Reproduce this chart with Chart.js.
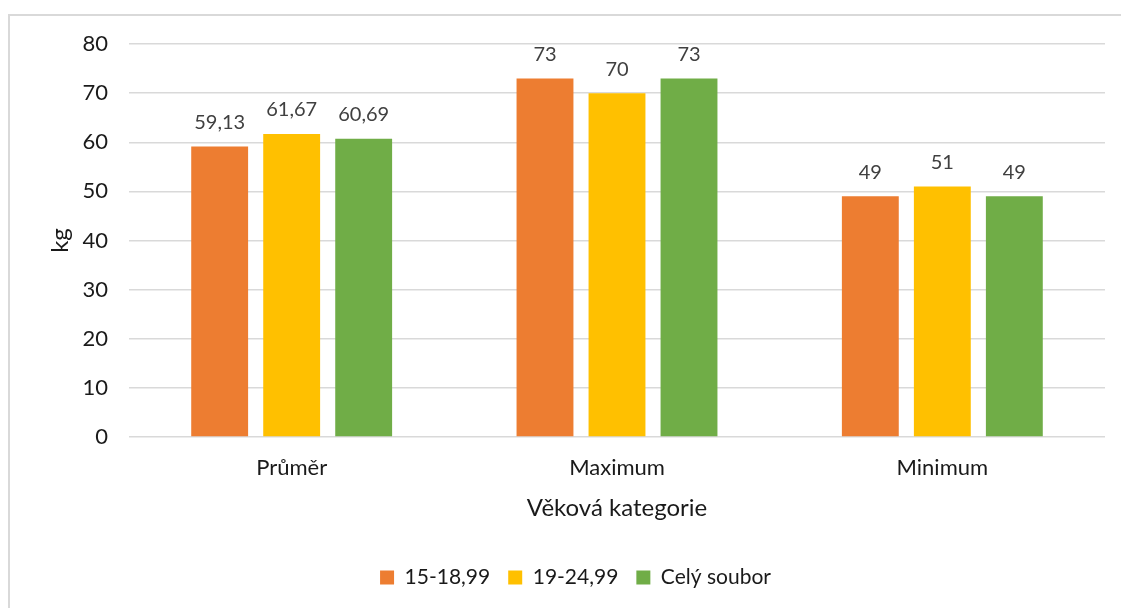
<!DOCTYPE html>
<html>
<head>
    <title>Chart</title>
    <script src="https://cdn.jsdelivr.net/npm/chart.js"></script>
    <style>
        body { margin: 0; background: #fff; }
        #frame {
            position: absolute; left: 8px; top: 14px;
            width: 1200px; height: 700px;
            border: 2px solid #d9d9d9;
        }
        #wrap { position: absolute; left: 0; top: 0; width: 1121px; height: 608px; }
    </style>
</head>
<body>
    <div id="frame"></div>
    <div id="wrap"><canvas id="chart"></canvas></div>
    <script>
        // data
        const categories = ['Průměr', 'Maximum', 'Minimum'];
        const seriesNames = ['15-18,99', '19-24,99', 'Celý soubor'];
        const values1518 = [59.13, 73, 49];
        const values1924 = [61.67, 70, 51];
        const valuesAll = [60.69, 73, 49];
        const colors = ['#ED7D31', '#FFC000', '#70AD47'];

        const FONT = 'Lato';

        // value labels above the bars (decimal comma)
        const barLabels = {
            id: 'barLabels',
            afterDatasetsDraw(chart) {
                const ctx = chart.ctx;
                ctx.save();
                ctx.font = '20px ' + FONT;
                ctx.fillStyle = '#404040';
                ctx.textAlign = 'center';
                ctx.textBaseline = 'bottom';
                chart.data.datasets.forEach((ds, i) => {
                    chart.getDatasetMeta(i).data.forEach((bar, j) => {
                        ctx.fillText(String(ds.data[j]).replace('.', ','), bar.x, bar.y - 14);
                    });
                });
                ctx.restore();
            }
        };

        var ctx = document.getElementById('chart').getContext('2d');
        var chart = new Chart(ctx, {
            type: 'bar',
            data: {
                labels: categories,
                datasets: [
                    { label: seriesNames[0], data: values1518, backgroundColor: colors[0] },
                    { label: seriesNames[1], data: values1924, backgroundColor: colors[1] },
                    { label: seriesNames[2], data: valuesAll, backgroundColor: colors[2] }
                ]
            },
            options: {
                responsive: true,
                maintainAspectRatio: false,
                animation: false,
                datasets: {
                    bar: { categoryPercentage: 0.664, barPercentage: 0.79 }
                },
                layout: { padding: { top: 44, right: 16, left: 46, bottom: 10 } },
                plugins: {
                    tooltip: { enabled: false },
                    legend: {
                        position: 'bottom',
                        labels: {
                            font: { family: FONT, size: 21 },
                            color: '#1a1a1a',
                            boxWidth: 14,
                            boxHeight: 14,
                            padding: 18
                        }
                    }
                },
                scales: {
                    y: {
                        min: 0,
                        max: 80,
                        ticks: {
                            stepSize: 10,
                            padding: 21,
                            color: '#1a1a1a',
                            font: { family: FONT, size: 22 }
                        },
                        grid: { color: '#d9d9d9', lineWidth: 1.5, drawTicks: false },
                        border: { display: false },
                        title: {
                            display: true,
                            text: 'kg',
                            color: '#1a1a1a',
                            font: { family: FONT, size: 24 },
                            padding: { top: 0, bottom: 0 }
                        },
                        afterFit(scale) { scale.width = 83; }
                    },
                    x: {
                        ticks: {
                            padding: 18,
                            color: '#1a1a1a',
                            font: { family: FONT, size: 22 }
                        },
                        grid: { display: false, drawTicks: false },
                        border: { display: false },
                        title: {
                            display: true,
                            text: 'Věková kategorie',
                            color: '#1a1a1a',
                            font: { family: FONT, size: 24 },
                            padding: { top: 12, bottom: 26 }
                        },
                        afterFit(scale) { scale.height = 112; }
                    }
                }
            },
            plugins: [barLabels]
        });
    </script>
</body>
</html>
